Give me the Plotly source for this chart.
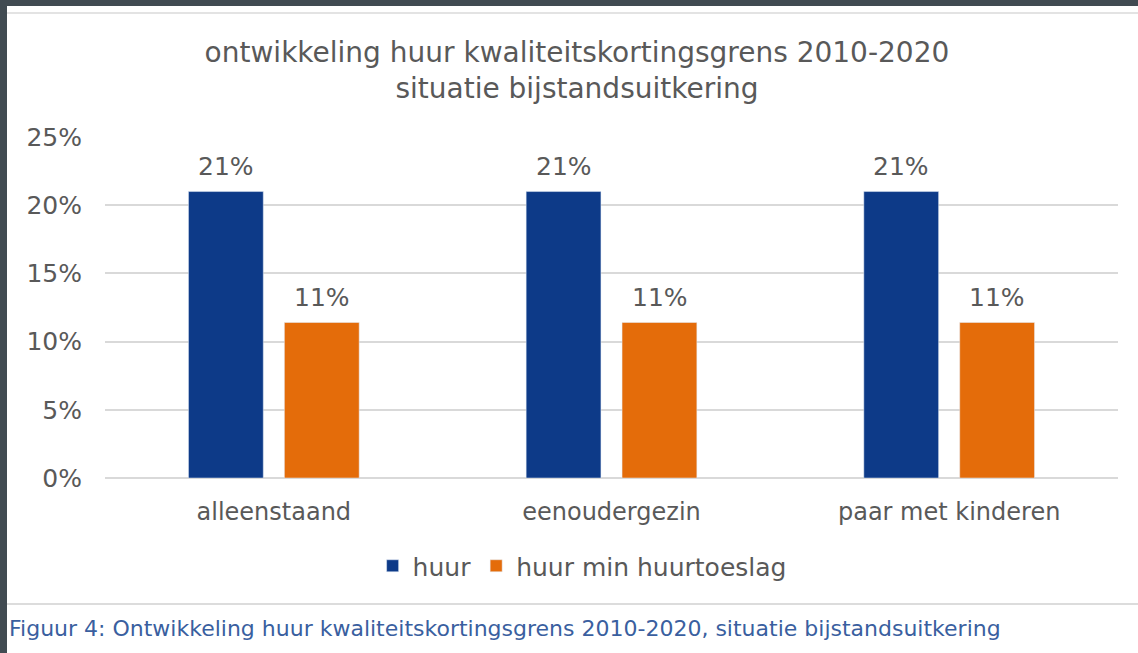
import plotly.graph_objects as go

# ----- data -----
categories = ["alleenstaand", "eenoudergezin", "paar met kinderen"]
huur = [0.21, 0.21, 0.21]
huur_min_toeslag = [0.114, 0.114, 0.114]
y_ticks = [0, 0.05, 0.10, 0.15, 0.20, 0.25]

W, H = 1138, 653
L, R, T, B = 105, 20, 137, 175
PW, PH = W - L - R, H - T - B


def px_x(x):
    return (x - L) / PW


def px_y(y):
    return (H - B - y) / PH


GREY = "#595959"
FONT = "DejaVu Sans, Verdana, sans-serif"
DARK = "#414b52"
SERIES = [("huur", huur, "#0d3a88", -48), ("huur min huurtoeslag", huur_min_toeslag, "#e46c0a", 48)]

fig = go.Figure()
annotations = []
for name, vals, color, dx in SERIES:
    fig.add_trace(go.Bar(x=categories, y=vals, name=name, marker_color=color))
    # value labels sit a little above each bar
    for cat, v in zip(categories, vals):
        annotations.append(dict(
            x=cat, y=v, xref="x", yref="y", text=f"{v:.0%}", showarrow=False,
            xshift=dx, yshift=25, yanchor="middle",
            font=dict(size=25, color=GREY, family=FONT),
        ))

annotations.append(dict(
    text="Figuur 4: Ontwikkeling huur kwaliteitskortingsgrens 2010-2020, situatie bijstandsuitkering",
    xref="paper", yref="paper", x=px_x(7), y=px_y(628), xanchor="left", yanchor="middle",
    showarrow=False, font=dict(size=22, color="#3a5f9f", family=FONT),
))

shapes = [
    # dark frame round the screenshot
    dict(type="rect", xref="paper", yref="paper", x0=px_x(0), x1=px_x(W),
         y0=px_y(6), y1=px_y(0), fillcolor=DARK, line_width=0, layer="above"),
    dict(type="rect", xref="paper", yref="paper", x0=px_x(0), x1=px_x(7),
         y0=px_y(H), y1=px_y(0), fillcolor=DARK, line_width=0, layer="above"),
    # thin grey rules
    dict(type="line", xref="paper", yref="paper", x0=px_x(7), x1=px_x(W),
         y0=px_y(13), y1=px_y(13), line=dict(color="#e3e3e3", width=2)),
    dict(type="line", xref="paper", yref="paper", x0=px_x(7), x1=px_x(W),
         y0=px_y(604), y1=px_y(604), line=dict(color="#dcdcdc", width=2)),
]

fig.update_layout(
    width=W, height=H,
    margin=dict(l=L, r=R, t=T, b=B),
    paper_bgcolor="white", plot_bgcolor="white",
    font=dict(family=FONT, color=GREY),
    title=dict(
        text="ontwikkeling huur kwaliteitskortingsgrens 2010-2020<br>situatie bijstandsuitkering",
        x=0.507, xanchor="center", y=1 - 62 / H, yanchor="middle",
        font=dict(size=28, color=GREY, family=FONT),
    ),
    barmode="group", bargap=0.432, bargroupgap=0.22,
    showlegend=True,
    legend=dict(orientation="h", x=0.471, xanchor="center", y=px_y(566), yanchor="middle",
                font=dict(size=25, color=GREY), itemwidth=30),
    shapes=shapes,
    annotations=annotations,
)
fig.update_xaxes(showgrid=False, showline=False, ticks="", ticklabelstandoff=17,
                 tickfont=dict(size=24, color=GREY))
fig.update_yaxes(range=[0, 0.25], tickvals=y_ticks, tickformat=".0%", showgrid=True,
                 gridcolor="#d9d9d9", gridwidth=1.5, zeroline=True, zerolinecolor="#d9d9d9",
                 zerolinewidth=1.5, ticks="", ticklabelstandoff=22,
                 tickfont=dict(size=25, color=GREY))

# page body has a default 8px margin; drop it so the figure fills the window
fig.write_html("out.html", config={"displayModeBar": False},
               post_script="document.body.style.margin='0';")
